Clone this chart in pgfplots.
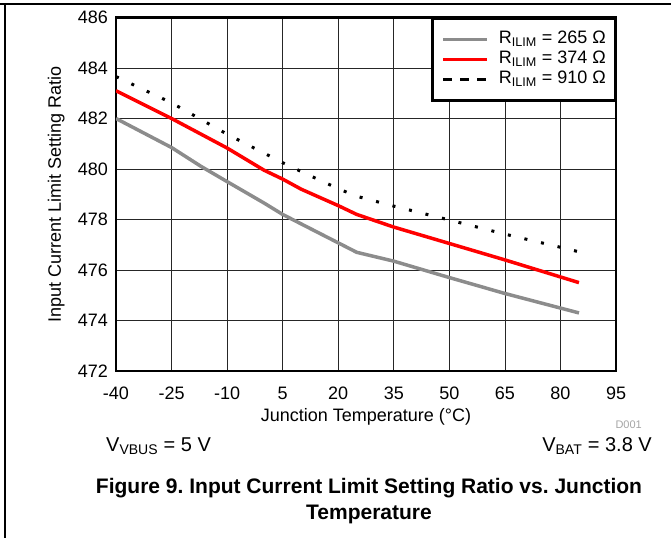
\documentclass[border=0pt]{standalone}
\usepackage{fontspec}
\setmainfont{Liberation Sans}
\usepackage{pgfplots}
\pgfplotsset{compat=1.18}
\definecolor{curvegray}{RGB}{140,140,140}
\definecolor{codegray}{RGB}{165,165,165}
\pgfplotsset{
  dashlegend/.style={legend image code/.code={\draw[##1, dash pattern=on 9pt off 8pt] (0pt,0pt) -- (44pt,0pt);}},
}
\frenchspacing

\begin{document}
\begin{tikzpicture}
\path[use as bounding box] (-116pt,-167pt) rectangle (555pt,371pt);
\draw[line width=1.2pt] (-116pt,367pt) -- (555pt,367pt);
\draw[line width=1.2pt] (-111pt,367pt) -- (-111pt,-167pt);
\begin{axis}[
  scale only axis, width=500pt, height=353.5pt,
  xmin=-40, xmax=95, ymin=472, ymax=486,
  xtick={-40,-25,...,95}, ytick={472,474,...,486},
  grid=major, major grid style={line width=0.8pt, black!85},
  major tick length=0pt,
  axis line style={line width=2.6pt},
  /pgf/number format/assume math mode=true,
  ticklabel style={font=\fontsize{18}{20}\selectfont},
  xticklabel style={anchor=base, inner sep=0pt, yshift=-28pt},
  yticklabel style={anchor=east, inner sep=0pt, xshift=-8pt},
  xlabel={Junction Temperature (°C)},
  ylabel={Input Current Limit Setting Ratio},
  label style={font=\fontsize{18}{20}\selectfont},
  xlabel style={at={(axis description cs:0.5,0)}, anchor=base, inner sep=0pt, yshift=-50pt},
  ylabel style={at={(axis description cs:-0.11,0.5)}, anchor=base, inner sep=0pt},
  legend cell align=left,
  legend style={at={(1,1)}, anchor=north east, draw=black, line width=2.4pt,
    font=\fontsize{18}{20}\selectfont, inner xsep=9pt, inner ysep=12pt, row sep=2pt,
    nodes={inner sep=0pt, text height=13pt, text depth=5pt},
    /tikz/every odd column/.style={column sep=10pt}},
  legend image code/.code={\draw[#1] (0pt,0pt) -- (44pt,0pt);},
]
\addplot[curvegray, line width=3.5pt] coordinates {
  (-40,482.0) (-25,480.85) (-17,480.1) (-10,479.5) (0,478.65) (5,478.2)
  (25,476.7) (35,476.35) (50,475.7) (65,475.07) (85,474.3)};
\addlegendentry{R\textsubscript{ILIM} = 265 Ω}
\addplot[red, line width=3.5pt] coordinates {
  (-40,483.1) (-25,482.0) (-10,480.83) (0,479.95) (5,479.6) (10,479.2)
  (20,478.55) (25,478.2) (35,477.7) (50,477.05) (65,476.4) (85,475.5)};
\addlegendentry{R\textsubscript{ILIM} = 374 Ω}
\addplot[black, line width=3pt, dash pattern=on 3pt off 14pt, dashlegend] coordinates {
  (-40,483.66) (-25,482.62) (-10,481.38) (5,480.25) (10,479.9) (20,479.22)
  (25,478.92) (35,478.53) (50,477.98) (65,477.42) (80,476.9) (85,476.72)};
\addlegendentry{R\textsubscript{ILIM} = 910 Ω}
\end{axis}
\node[anchor=base west, inner sep=0pt, font=\fontsize{20}{24}\selectfont] at (-10pt,-80pt) {V\textsubscript{VBUS} = 5 V};
\node[anchor=base east, inner sep=0pt, font=\fontsize{20}{24}\selectfont] at (536pt,-80pt) {V\textsubscript{BAT} = 3.8 V};
\node[anchor=base east, inner sep=0pt, text=codegray, font=\fontsize{11}{13}\selectfont] at (526pt,-57pt) {D001};
\node[anchor=base, inner sep=0pt, font=\bfseries\fontsize{21}{26}\selectfont] at (253pt,-122pt) {Figure 9. Input Current Limit Setting Ratio vs. Junction};
\node[anchor=base, inner sep=0pt, font=\bfseries\fontsize{21}{26}\selectfont] at (253pt,-148pt) {Temperature};
\end{tikzpicture}
\end{document}
